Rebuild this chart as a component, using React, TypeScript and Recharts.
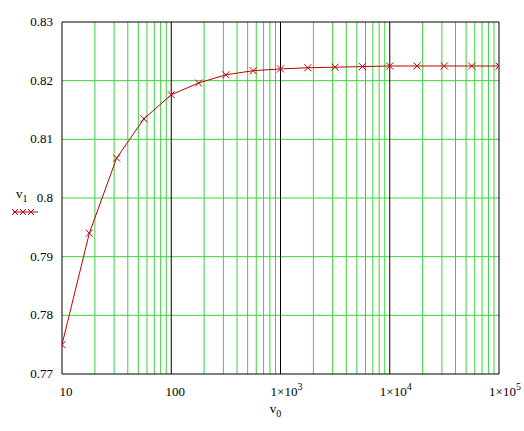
import React from "react";
import { LineChart, Line, XAxis, YAxis, ReferenceLine } from "recharts";

const v0 = [10, 17.78, 31.62, 56.23, 100, 177.8, 316.2, 562.3, 1000, 1778, 3162, 5623, 10000, 17780, 31620, 56230, 100000];
const v1 = [0.775, 0.794, 0.8068, 0.8135, 0.8176, 0.8196, 0.821, 0.8217, 0.822, 0.8222, 0.8223, 0.8224, 0.8225, 0.8225, 0.8225, 0.8225, 0.8225];
const xTicks = [10, 100, 1000, 10000, 100000];
const yTicks = [0.77, 0.78, 0.79, 0.8, 0.81, 0.82, 0.83];
const xMinor = [20, 30, 40, 50, 60, 70, 80, 90, 200, 300, 400, 500, 600, 700, 800, 900, 2000, 3000, 4000, 5000, 6000, 7000, 8000, 9000, 20000, 30000, 40000, 50000, 60000, 70000, 80000, 90000];
const yMinor = [0.78, 0.79, 0.8, 0.81, 0.82];
const yLabels = ["0.77", "0.78", "0.79", "0.8", "0.81", "0.82", "0.83"];

const data = v0.map((x, i) => ({ x, y: v1[i] }));
const FONT = "'Liberation Serif', 'Times New Roman', serif";
const RED = "#c00000";
const GREEN = "#3cd23c";

const XTick = (props: any) => {
  const { x, payload } = props;
  const v = payload.value;
  const ty = 396;
  if (v < 1000) {
    return (
      <text x={x + 4} y={ty} textAnchor="middle" fontFamily={FONT} fontSize={13} fill="#000">
        {String(v)}
      </text>
    );
  }
  const e = Math.round(Math.log10(v));
  return (
    <text x={x + 6} y={ty} textAnchor="middle" fontFamily={FONT} fontSize={13} fill="#000">
      <tspan>1×10</tspan>
      <tspan dy={-6} fontSize={10}>{String(e)}</tspan>
    </text>
  );
};

const YTick = (props: any) => {
  const { x, y, payload } = props;
  const idx = yTicks.indexOf(payload.value);
  return (
    <text x={x - 1} y={y + 4} textAnchor="end" fontFamily={FONT} fontSize={13} fill="#000">
      {idx >= 0 ? yLabels[idx] : String(payload.value)}
    </text>
  );
};

const XDot = (props: any) => {
  const { cx, cy } = props;
  if (cx == null || cy == null) return null;
  const s = 3.5;
  return (
    <g>
      <line x1={cx - s} y1={cy - s} x2={cx + s} y2={cy + s} stroke={RED} strokeWidth={1} />
      <line x1={cx - s} y1={cy + s} x2={cx + s} y2={cy - s} stroke={RED} strokeWidth={1} />
    </g>
  );
};

const XLabel = (props: any) => {
  const vb = props.viewBox || {};
  const cx = vb.x + vb.width / 2;
  return (
    <text x={cx - 5} y={413} textAnchor="middle" fontFamily={FONT} fontSize={13} fill="#000">
      <tspan>v</tspan>
      <tspan dy={4} fontSize={10}>0</tspan>
    </text>
  );
};

export default function App() {
  return (
    <div style={{ position: "absolute", left: 0, top: 0, width: 524, height: 431, background: "#fff" }}>
      <LineChart width={524} height={431} data={data} margin={{ top: 22, right: 25, left: 0, bottom: 0 }}>
        <XAxis
          dataKey="x"
          type="number"
          scale="log"
          domain={[10, 100000]}
          ticks={xTicks}
          height={57}
          axisLine={false}
          tickLine={false}
          tick={<XTick />}
          interval={0}
          label={<XLabel />}
          allowDataOverflow
        />
        <YAxis
          type="number"
          domain={[0.77, 0.83]}
          ticks={yTicks}
          width={62}
          axisLine={false}
          tickLine={false}
          tick={<YTick />}
          interval={0}
          allowDataOverflow
        />
        {xMinor.map((v) => (
          <ReferenceLine key={"xm" + v} x={v} stroke={GREEN} strokeWidth={1} />
        ))}
        {yMinor.map((v) => (
          <ReferenceLine key={"ym" + v} y={v} stroke={GREEN} strokeWidth={1} />
        ))}
        {xTicks.map((v) => (
          <ReferenceLine key={"xt" + v} x={v} stroke="#000" strokeWidth={1} />
        ))}
        <ReferenceLine y={0.77} stroke="#000" strokeWidth={1} />
        <ReferenceLine y={0.83} stroke="#000" strokeWidth={1} />
        <Line
          dataKey="y"
          stroke={RED}
          strokeWidth={1}
          dot={<XDot />}
          isAnimationActive={false}
          type="linear"
        />
      </LineChart>
      <svg width={60} height={40} style={{ position: "absolute", left: 0, top: 185 }}>
        <text x={16} y={13} fontFamily={FONT} fontSize={13} fill="#000">
          <tspan>v</tspan>
          <tspan dy={4} fontSize={10}>1</tspan>
        </text>
        <line x1={13} y1={27} x2={38} y2={27} stroke={RED} strokeWidth={1} />
        {[15, 23, 31].map((cx) => (
          <g key={cx}>
            <line x1={cx - 3} y1={24} x2={cx + 3} y2={30} stroke={RED} />
            <line x1={cx - 3} y1={30} x2={cx + 3} y2={24} stroke={RED} />
          </g>
        ))}
      </svg>
    </div>
  );
}
